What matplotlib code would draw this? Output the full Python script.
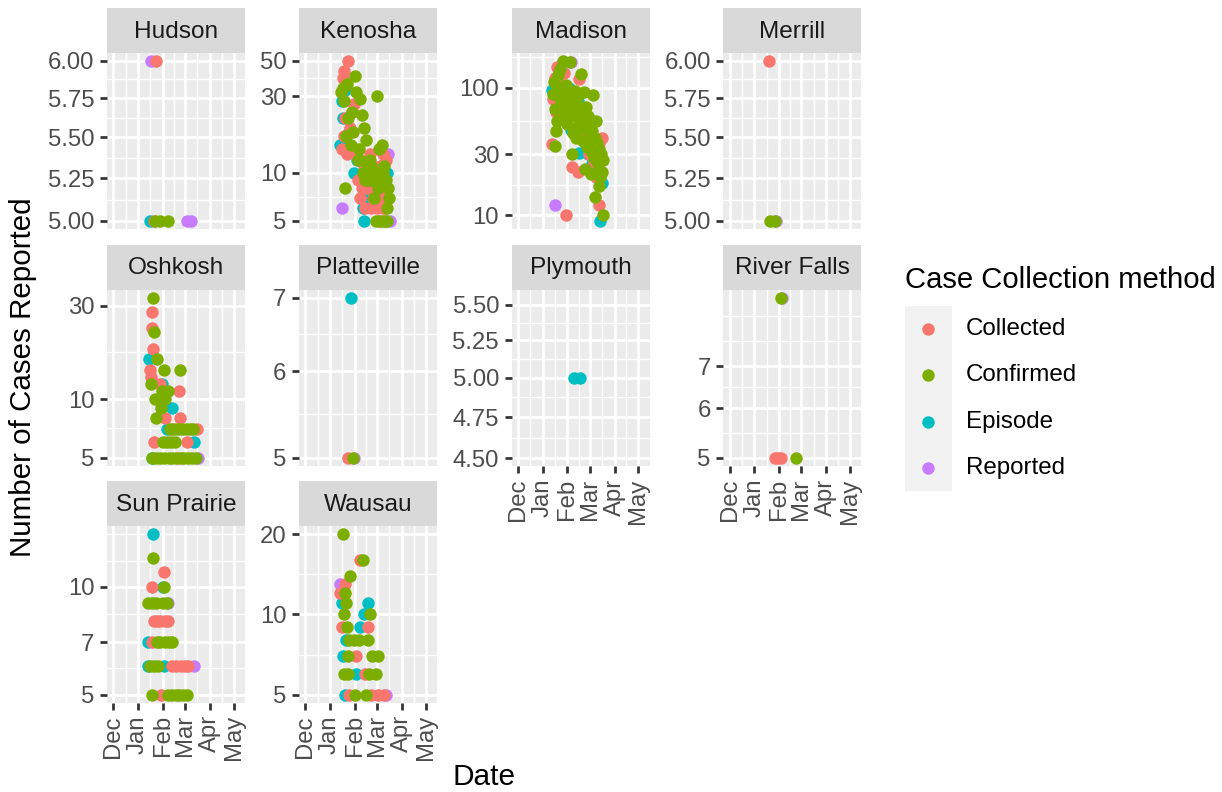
import numpy as np
import pandas as pd
import matplotlib
matplotlib.use("Agg")
import matplotlib.pyplot as plt
import matplotlib.dates as mdates
from matplotlib.ticker import FixedLocator, NullFormatter

plt.rcParams["font.family"] = ["Liberation Sans", "DejaVu Sans"]

# ---------------- Data ----------------

methods = ["Collected", "Confirmed", "Episode", "Reported"]
method_colors = ["#F8766D", "#7CAE00", "#00BFC4", "#C77CFF"]
draw_order = ["Episode", "Reported", "Collected", "Confirmed"]

facets = ["Hudson", "Kenosha", "Madison", "Merrill", "Oshkosh", "Platteville",
          "Plymouth", "River Falls", "Sun Prairie", "Wausau"]

# reporting window (rows below 5 cases are not drawn on the log scale)
date_window = ["2021-12-01", "2022-05-07"]
month_ticks = ["2021-12-01", "2022-01-01", "2022-02-01", "2022-03-01", "2022-04-01", "2022-05-01"]

# all dates below are month-day in 2022
hudson_collected_dates = ["01-21", "01-24"]
hudson_collected_cases = [5, 6]
hudson_confirmed_dates = ["01-22", "01-28", "02-07"]
hudson_confirmed_cases = [5, 5, 5]
hudson_episode_dates = ["01-16"]
hudson_episode_cases = [5]
hudson_reported_dates = ["01-17", "03-03", "03-09"]
hudson_reported_cases = [6, 5, 5]

kenosha_collected_dates = ["01-16", "01-17", "01-18", "01-19", "01-20", "01-22", "01-24", "01-26",
                           "01-27", "01-29", "01-31", "02-02", "02-05", "02-08", "02-10", "02-12",
                           "02-14", "02-16", "02-18", "02-20", "02-22", "02-24", "02-25", "02-27",
                           "03-01", "03-02", "03-03", "03-04", "03-05", "03-07", "03-08", "03-09",
                           "03-10", "03-11", "03-12"]
kenosha_collected_cases = [14, 39, 43, 17, 22, 13, 50, 19, 14, 24, 27, 13, 9, 7, 8, 11,
                           6, 8, 10, 13, 6, 7, 9, 8, 6, 5, 8, 7, 11, 9, 6, 13,
                           7, 6, 12]
kenosha_confirmed_dates = ["01-15", "01-17", "01-18", "01-20", "01-21", "01-22", "01-24", "01-27",
                           "01-28", "01-30", "02-01", "02-03", "02-05", "02-06", "02-07", "02-08",
                           "02-10", "02-11", "02-13", "02-14", "02-15", "02-16", "02-17", "02-18",
                           "02-19", "02-20", "02-21", "02-22", "02-23", "02-24", "02-25", "02-26",
                           "02-27", "02-28", "03-01", "03-02", "03-03", "03-04", "03-05", "03-06",
                           "03-07", "03-08", "03-09", "03-10", "03-11", "03-12", "03-13", "03-14",
                           "03-15", "03-16"]
kenosha_confirmed_cases = [32, 34, 28, 8, 17, 36, 22, 15, 24, 18, 40, 32, 12, 14, 29, 12,
                           23, 10, 19, 9, 16, 10, 11, 9, 9, 12, 10, 11, 9, 10, 7, 9,
                           10, 5, 30, 8, 14, 10, 5, 9, 15, 5, 10, 11, 5, 9, 5, 6,
                           8, 7]
kenosha_episode_dates = ["01-14", "01-16", "01-17", "01-20", "01-25", "01-31", "02-04", "02-11",
                         "02-12", "02-14", "02-20", "03-02", "03-13"]
kenosha_episode_cases = [15, 28, 22, 33, 18, 10, 12, 6, 5, 7, 9, 7, 10]
kenosha_reported_dates = ["01-16", "03-15", "03-17"]
kenosha_reported_cases = [6, 13, 5]

madison_collected_dates = ["01-13", "01-14", "01-16", "01-18", "01-19", "01-22", "01-24", "01-25",
                           "01-28", "01-30", "02-02", "02-04", "02-06", "02-07", "02-10", "02-12",
                           "02-14", "02-16", "02-19", "02-21", "02-23", "02-25", "02-28", "03-03",
                           "03-06", "03-09", "03-12", "03-13", "03-15", "03-16"]
madison_collected_cases = [36, 82, 120, 65, 145, 95, 105, 70, 130, 10, 88, 60, 90, 24, 75, 68,
                           22, 118, 55, 48, 62, 44, 30, 36, 26, 20, 37, 12, 28, 40]
madison_confirmed_dates = ["01-14", "01-15", "01-16", "01-17", "01-18", "01-19", "01-20", "01-21",
                           "01-22", "01-23", "01-24", "01-25", "01-26", "01-27", "01-28", "01-29",
                           "01-30", "01-31", "02-01", "02-02", "02-03", "02-04", "02-05", "02-06",
                           "02-07", "02-08", "02-09", "02-10", "02-11", "02-12", "02-13", "02-14",
                           "02-15", "02-16", "02-17", "02-18", "02-19", "02-21", "02-22", "02-23",
                           "02-24", "02-25", "02-26", "02-27", "02-28", "03-01", "03-02", "03-03",
                           "03-04", "03-05", "03-06", "03-07", "03-08", "03-09", "03-10", "03-11",
                           "03-12", "03-13", "03-14", "03-15", "03-16", "03-17", "03-18"]
madison_confirmed_cases = [90, 110, 68, 35, 46, 55, 125, 85, 100, 140, 80, 95, 163, 75, 88, 62,
                           105, 52, 100, 78, 65, 160, 92, 80, 30, 44, 70, 95, 60, 40, 85, 50,
                           72, 58, 66, 128, 48, 38, 92, 23, 70, 52, 34, 60, 42, 44, 32, 21,
                           46, 88, 28, 14, 40, 55, 37, 25, 33, 17, 20, 30, 22, 27, 10]
madison_episode_dates = ["01-13", "01-15", "01-18", "01-20", "01-24", "01-26", "01-29", "02-01",
                         "02-03", "02-05", "02-09", "02-12", "02-14", "02-16", "02-18", "02-20",
                         "02-23", "02-27", "03-01", "03-04", "03-08", "03-13", "03-14", "03-16"]
madison_episode_cases = [96, 83, 110, 75, 130, 88, 92, 70, 100, 47, 85, 62, 78, 31, 58, 50,
                         40, 30, 35, 25, 28, 22, 9, 18]
madison_reported_dates = ["01-16", "02-05"]
madison_reported_cases = [12, 160]

merrill_collected_dates = ["01-20"]
merrill_collected_cases = [6]
merrill_confirmed_dates = ["01-21", "01-27"]
merrill_confirmed_cases = [5, 5]
merrill_reported_dates = ["01-28"]
merrill_reported_cases = [5]

oshkosh_collected_dates = ["01-16", "01-17", "01-18", "01-19", "01-20", "01-21", "01-29", "02-04",
                           "02-12", "02-20", "02-21", "02-23", "03-04", "03-16"]
oshkosh_collected_cases = [14, 13, 28, 23, 18, 6, 12, 8, 7, 5, 11, 8, 6, 7]
oshkosh_confirmed_dates = ["01-17", "01-18", "01-20", "01-21", "01-22", "01-23", "01-24", "01-25",
                           "01-28", "01-30", "01-31", "02-01", "02-02", "02-03", "02-04", "02-06",
                           "02-08", "02-09", "02-10", "02-11", "02-13", "02-15", "02-16", "02-18",
                           "02-20", "02-23", "02-24", "02-25", "02-28", "03-02", "03-05", "03-07",
                           "03-10", "03-11", "03-15"]
oshkosh_confirmed_cases = [12, 5, 33, 22, 10, 5, 8, 16, 5, 9, 11, 6, 14, 5, 10, 6,
                           11, 5, 7, 6, 5, 7, 6, 5, 7, 14, 5, 7, 5, 7, 5, 7,
                           5, 7, 5]
oshkosh_episode_dates = ["01-15", "01-19", "01-31", "02-06", "02-13", "03-12"]
oshkosh_episode_cases = [16, 5, 12, 7, 9, 6]
oshkosh_reported_dates = ["03-17"]
oshkosh_reported_cases = [5]

platteville_collected_dates = ["01-23"]
platteville_collected_cases = [5]
platteville_confirmed_dates = ["01-30"]
platteville_confirmed_cases = [5]
platteville_episode_dates = ["01-27"]
platteville_episode_cases = [7]
platteville_reported_dates = ["01-31"]
platteville_reported_cases = [5]

plymouth_episode_dates = ["02-09", "02-17"]
plymouth_episode_cases = [5, 5]

river_falls_collected_dates = ["01-27", "01-31", "02-04"]
river_falls_collected_cases = [5, 5, 5]
river_falls_confirmed_dates = ["02-04", "02-22"]
river_falls_confirmed_cases = [9, 5]
river_falls_reported_dates = ["02-05"]
river_falls_reported_cases = [9]

sun_prairie_collected_dates = ["01-18", "01-19", "01-21", "01-25", "01-29", "01-30", "02-03", "02-04",
                               "02-08", "02-12", "02-18", "02-24", "03-01", "03-05"]
sun_prairie_collected_cases = [7, 10, 8, 8, 8, 5, 11, 8, 8, 6, 6, 6, 6, 6]
sun_prairie_confirmed_dates = ["01-14", "01-16", "01-18", "01-19", "01-20", "01-21", "01-24", "01-25",
                               "01-26", "01-29", "02-01", "02-03", "02-04", "02-06", "02-07", "02-09",
                               "02-12", "02-13", "02-17", "02-22", "02-27", "03-04"]
sun_prairie_confirmed_cases = [9, 6, 5, 9, 12, 6, 9, 7, 6, 7, 9, 10, 7, 9, 5, 7,
                               5, 7, 5, 5, 5, 5]
sun_prairie_episode_dates = ["01-13", "01-14", "01-20", "02-01", "02-02"]
sun_prairie_episode_cases = [6, 7, 14, 10, 6]
sun_prairie_reported_dates = ["02-07", "03-12"]
sun_prairie_reported_cases = [9, 6]

wausau_collected_dates = ["01-14", "01-16", "01-20", "01-25", "02-02", "02-07", "02-14", "02-17",
                          "02-22", "03-02", "03-10"]
wausau_collected_cases = [12, 9, 13, 5, 7, 16, 6, 9, 5, 5, 5]
wausau_confirmed_dates = ["01-17", "01-18", "01-19", "01-20", "01-21", "01-22", "01-23", "01-24",
                          "01-25", "01-26", "01-31", "02-01", "02-06", "02-11", "02-15", "02-18",
                          "02-19", "02-20", "02-23", "02-28", "03-02"]
wausau_confirmed_cases = [20, 6, 10, 12, 11, 9, 6, 7, 8, 14, 8, 5, 8, 16, 5, 8,
                          6, 10, 7, 6, 7]
wausau_episode_dates = ["01-16", "01-17", "01-20", "01-21", "02-02", "02-07", "02-13", "02-17"]
wausau_episode_cases = [11, 7, 5, 8, 6, 9, 10, 11]
wausau_reported_dates = ["01-13", "03-12"]
wausau_reported_cases = [13, 5]

hudson_yticks = ["5.00", "5.25", "5.50", "5.75", "6.00"]
kenosha_yticks = ["5", "10", "30", "50"]
madison_yticks = ["10", "30", "100"]
merrill_yticks = ["5.00", "5.25", "5.50", "5.75", "6.00"]
oshkosh_yticks = ["5", "10", "30"]
platteville_yticks = ["5", "6", "7"]
plymouth_yticks = ["4.50", "4.75", "5.00", "5.25", "5.50"]
river_falls_yticks = ["5", "6", "7"]
sun_prairie_yticks = ["5", "7", "10"]
wausau_yticks = ["5", "10", "20"]

series = {
    ("Hudson", "Collected"): (hudson_collected_dates, hudson_collected_cases),
    ("Hudson", "Confirmed"): (hudson_confirmed_dates, hudson_confirmed_cases),
    ("Hudson", "Episode"): (hudson_episode_dates, hudson_episode_cases),
    ("Hudson", "Reported"): (hudson_reported_dates, hudson_reported_cases),
    ("Kenosha", "Collected"): (kenosha_collected_dates, kenosha_collected_cases),
    ("Kenosha", "Confirmed"): (kenosha_confirmed_dates, kenosha_confirmed_cases),
    ("Kenosha", "Episode"): (kenosha_episode_dates, kenosha_episode_cases),
    ("Kenosha", "Reported"): (kenosha_reported_dates, kenosha_reported_cases),
    ("Madison", "Collected"): (madison_collected_dates, madison_collected_cases),
    ("Madison", "Confirmed"): (madison_confirmed_dates, madison_confirmed_cases),
    ("Madison", "Episode"): (madison_episode_dates, madison_episode_cases),
    ("Madison", "Reported"): (madison_reported_dates, madison_reported_cases),
    ("Merrill", "Collected"): (merrill_collected_dates, merrill_collected_cases),
    ("Merrill", "Confirmed"): (merrill_confirmed_dates, merrill_confirmed_cases),
    ("Merrill", "Reported"): (merrill_reported_dates, merrill_reported_cases),
    ("Oshkosh", "Collected"): (oshkosh_collected_dates, oshkosh_collected_cases),
    ("Oshkosh", "Confirmed"): (oshkosh_confirmed_dates, oshkosh_confirmed_cases),
    ("Oshkosh", "Episode"): (oshkosh_episode_dates, oshkosh_episode_cases),
    ("Oshkosh", "Reported"): (oshkosh_reported_dates, oshkosh_reported_cases),
    ("Platteville", "Collected"): (platteville_collected_dates, platteville_collected_cases),
    ("Platteville", "Confirmed"): (platteville_confirmed_dates, platteville_confirmed_cases),
    ("Platteville", "Episode"): (platteville_episode_dates, platteville_episode_cases),
    ("Platteville", "Reported"): (platteville_reported_dates, platteville_reported_cases),
    ("Plymouth", "Episode"): (plymouth_episode_dates, plymouth_episode_cases),
    ("River Falls", "Collected"): (river_falls_collected_dates, river_falls_collected_cases),
    ("River Falls", "Confirmed"): (river_falls_confirmed_dates, river_falls_confirmed_cases),
    ("River Falls", "Reported"): (river_falls_reported_dates, river_falls_reported_cases),
    ("Sun Prairie", "Collected"): (sun_prairie_collected_dates, sun_prairie_collected_cases),
    ("Sun Prairie", "Confirmed"): (sun_prairie_confirmed_dates, sun_prairie_confirmed_cases),
    ("Sun Prairie", "Episode"): (sun_prairie_episode_dates, sun_prairie_episode_cases),
    ("Sun Prairie", "Reported"): (sun_prairie_reported_dates, sun_prairie_reported_cases),
    ("Wausau", "Collected"): (wausau_collected_dates, wausau_collected_cases),
    ("Wausau", "Confirmed"): (wausau_confirmed_dates, wausau_confirmed_cases),
    ("Wausau", "Episode"): (wausau_episode_dates, wausau_episode_cases),
    ("Wausau", "Reported"): (wausau_reported_dates, wausau_reported_cases),
}

yticks = {
    "Hudson": hudson_yticks, "Kenosha": kenosha_yticks, "Madison": madison_yticks,
    "Merrill": merrill_yticks, "Oshkosh": oshkosh_yticks, "Platteville": platteville_yticks,
    "Plymouth": plymouth_yticks, "River Falls": river_falls_yticks,
    "Sun Prairie": sun_prairie_yticks, "Wausau": wausau_yticks,
}

# facets that carry the shared date axis (no panel below them)
with_x_axis = ["Plymouth", "River Falls", "Sun Prairie", "Wausau"]

# ---------------- Layout (pixels) ----------------

W, H, DPI = 1222, 792, 183
col_left = [107, 299, 511.7, 723.3]
row_top = [52.7, 289.6, 526.3]
panel_w, panel_h, strip_h = 137.8, 176.3, 45

BG = "#EBEBEB"
STRIP = "#D9D9D9"
AXIS_TXT = "#4D4D4D"
TICK = "#333333"
PT_SIZE = 24


def px_box(left, top, width, height):
    return [left / W, 1 - (top + height) / H, width / W, height / H]


def to_num(md):
    return mdates.date2num(pd.to_datetime(["2022-" + d for d in md]))


def minor_breaks(major, lo, hi):
    # ggplot-style: midpoints between majors, extended one step past each end
    b = list(major)
    bd = b[1] - b[0]
    if lo < b[0]:
        b = [b[0] - bd] + b
    if hi > b[-1]:
        b = b + [b[-1] + bd]
    b = np.array(b)
    cand = np.r_[b, (b[:-1] + b[1:]) / 2]
    keep = [v for v in cand if lo <= v <= hi and not np.any(np.isclose(v, major))]
    return np.array(sorted(keep))


# x scale shared by all panels
xw = mdates.date2num(pd.to_datetime(date_window))
xpad = 0.05 * (xw[1] - xw[0])
xlo, xhi = xw[0] - xpad, xw[1] + xpad
xmaj_all = mdates.date2num(pd.to_datetime(month_ticks))
xmaj = xmaj_all[(xmaj_all >= xlo) & (xmaj_all <= xhi)]
xmin_ = minor_breaks(xmaj, xlo, xhi)
xlabels = [pd.Timestamp(t).strftime("%b") for t in month_ticks]

color_of = dict(zip(methods, method_colors))

fig = plt.figure(figsize=(W / DPI, H / DPI), dpi=DPI)

for i, name in enumerate(facets):
    r, c = divmod(i, 4)

    # strip
    sax = fig.add_axes(px_box(col_left[c], row_top[r] - strip_h, panel_w, strip_h))
    sax.set_facecolor(STRIP)
    sax.set_xticks([])
    sax.set_yticks([])
    for s in sax.spines.values():
        s.set_visible(False)
    sax.text(0.5, 0.47, name, ha="center", va="center", fontsize=9.6,
             color="#1A1A1A", transform=sax.transAxes)

    # panel
    ax = fig.add_axes(px_box(col_left[c], row_top[r], panel_w, panel_h))
    ax.set_facecolor(BG)
    for s in ax.spines.values():
        s.set_visible(False)
    ax.set_yscale("log")

    values = []
    for m in draw_order:
        if (name, m) in series:
            d, v = series[(name, m)]
            ax.scatter(to_num(d), v, s=PT_SIZE, color=color_of[m], linewidths=0, zorder=3)
            values += list(v)

    lo, hi = np.log10(min(values)), np.log10(max(values))
    if hi == lo:
        lo, hi = lo - 0.05, hi + 0.05
    else:
        pad = 0.05 * (hi - lo)
        lo, hi = lo - pad, hi + pad
    ax.set_ylim(10 ** lo, 10 ** hi)
    ax.set_xlim(xlo, xhi)

    labels = yticks[name]
    ymaj = np.log10([float(t) for t in labels])
    ymin_ = minor_breaks(ymaj, lo, hi)
    ax.yaxis.set_major_locator(FixedLocator(10 ** ymaj))
    ax.yaxis.set_ticklabels(labels)
    ax.yaxis.set_minor_locator(FixedLocator(10 ** ymin_))
    ax.yaxis.set_minor_formatter(NullFormatter())

    ax.xaxis.set_major_locator(FixedLocator(xmaj))
    ax.xaxis.set_minor_locator(FixedLocator(xmin_))
    ax.xaxis.set_minor_formatter(NullFormatter())

    ax.grid(True, which="major", color="white", linewidth=1.07)
    ax.grid(True, which="minor", color="white", linewidth=0.53)
    ax.set_axisbelow(True)

    ax.tick_params(axis="y", which="major", length=2.75, width=1.07, color=TICK,
                   labelsize=9.4, labelcolor=AXIS_TXT, pad=2.2)
    ax.tick_params(which="minor", length=0)
    if name in with_x_axis:
        ax.set_xticklabels(xlabels)
        ax.tick_params(axis="x", which="major", length=2.75, width=1.07, color=TICK,
                       labelsize=9.4, labelcolor=AXIS_TXT, pad=2.2, labelrotation=90)
    else:
        ax.tick_params(axis="x", which="major", length=0, labelbottom=False)

# ---------------- Axis titles ----------------

fig.text(484 / W, 1 - 777 / H, "Date", ha="center", va="center", fontsize=11.7)
fig.text(23.5 / W, 1 - 377 / H, "Number of Cases Reported", ha="center", va="center",
         rotation=90, fontsize=11.6)

# ---------------- Legend ----------------

fig.text(905 / W, 1 - 280 / H, "Case Collection method", ha="left", va="center", fontsize=11.5)
key_top, key_h = 306, 46.2
lax = fig.add_axes(px_box(905, key_top, 46.7, key_h * len(methods)))
lax.set_facecolor("#F2F2F2")
lax.set_xlim(0, 1)
lax.set_ylim(len(methods), 0)
lax.set_xticks([])
lax.set_yticks([])
for s in lax.spines.values():
    s.set_visible(False)
for k, m in enumerate(methods):
    lax.scatter([0.5], [k + 0.5], s=PT_SIZE, color=color_of[m], linewidths=0)
    fig.text(966 / W, 1 - (key_top + key_h * (k + 0.5)) / H, m, ha="left", va="center",
             fontsize=9.5)

fig.savefig("out.png", dpi=DPI)
